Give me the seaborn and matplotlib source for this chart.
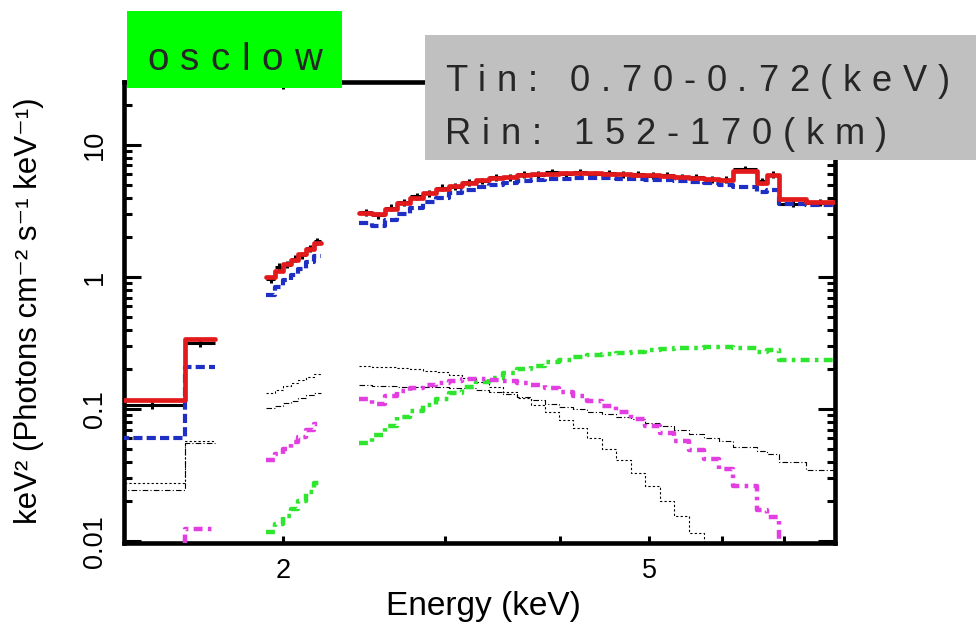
import pandas as pd
import seaborn as sns
import matplotlib.pyplot as plt
from matplotlib.patches import Rectangle
from matplotlib.ticker import FixedLocator, NullFormatter
from matplotlib.font_manager import FontProperties

W, H, DPI = 976, 629, 100

# bin edges (keV) of the three energy groups
edges_lo = [1.33, 1.566, 1.688]
edges_mid = [1.92, 1.96, 2.00, 2.04, 2.08, 2.12, 2.16, 2.20]
edges_hi = [2.42, 2.50, 2.58, 2.66, 2.75, 2.84, 2.93, 3.03, 3.13, 3.24, 3.35,
            3.47, 3.59, 3.72, 3.85, 3.99, 4.13, 4.28, 4.44, 4.60, 4.77, 4.95,
            5.13, 5.32, 5.52, 5.73, 5.95, 6.16, 6.54, 6.71, 6.92, 7.40, 7.94]

# one value per bin: 2 (lo) + 7 (mid) + 32 (hi)
data_flux = [0.107, 0.316,
             0.96, 1.2, 1.24, 1.38, 1.47, 1.66, 1.86,
             3.1, 2.95, 3.35, 3.7, 4.1, 4.3, 4.75, 4.85, 5.25, 5.35, 5.7, 5.7,
             6.0, 5.95, 6.2, 6.05, 6.25, 6.05, 6.15, 6.0, 6.05, 5.85, 5.9, 5.7,
             5.72, 5.5, 5.45, 6.6, 5.3, 5.95, 3.6, 3.65]
data_err_frac = 0.06

model_total = [0.117, 0.339,
               1.0, 1.12, 1.25, 1.35, 1.5, 1.62, 1.82,
               3.05, 3.0, 3.3, 3.65, 4.0, 4.35, 4.65, 4.9, 5.15, 5.4, 5.6, 5.75,
               5.9, 6.0, 6.08, 6.12, 6.15, 6.12, 6.08, 6.03, 5.98, 5.9, 5.83,
               5.75, 5.65, 5.55, 5.4, 6.4, 5.15, 5.95, 3.9, 3.7]

model_disk = [0.060, 0.208,
              0.73, 0.84, 0.95, 1.04, 1.15, 1.3, 1.44,
              2.57, 2.45, 2.7, 3.0, 3.35, 3.7, 4.0, 4.3, 4.55, 4.8, 5.0, 5.15,
              5.3, 5.4, 5.5, 5.55, 5.6, 5.6, 5.58, 5.55, 5.5, 5.45, 5.4, 5.32,
              5.25, 5.15, 5.0, 4.85, 4.4, 4.55, 3.6, 3.5]

comp_green = [0.001, 0.003,
              0.0117, 0.0135, 0.0155, 0.0175, 0.02, 0.0235, 0.0275,
              0.055, 0.064, 0.075, 0.087, 0.097, 0.108, 0.119, 0.132, 0.146,
              0.16, 0.173, 0.187, 0.2, 0.213, 0.226, 0.237, 0.248, 0.258,
              0.263, 0.268, 0.273, 0.279, 0.284, 0.29, 0.292, 0.294, 0.296,
              0.29, 0.27, 0.28, 0.235, 0.235]

comp_magenta = [0.004, 0.0123,
                0.041, 0.046, 0.05, 0.056, 0.062, 0.069, 0.077,
                0.12, 0.11, 0.125, 0.137, 0.145, 0.152, 0.158, 0.163, 0.168,
                0.169, 0.167, 0.163, 0.158, 0.152, 0.145, 0.136, 0.126, 0.116,
                0.105, 0.095, 0.084, 0.075, 0.066, 0.057, 0.049, 0.042, 0.035,
                0.026, 0.0172, 0.0153, 0.006, 0.004]

comp_thin_a = [0.0275, 0.057,
               0.132, 0.14, 0.15, 0.158, 0.166, 0.175, 0.184,
               0.212, 0.21, 0.208, 0.205, 0.2, 0.195, 0.19, 0.182, 0.172, 0.16,
               0.148, 0.136, 0.122, 0.108, 0.095, 0.083, 0.072, 0.061, 0.05,
               0.041, 0.033, 0.026, 0.02, 0.0155, 0.0115, 0.0085, 0.006, 0.004,
               0.003, 0.0025, 0.0018, 0.0012]

comp_thin_b = [0.0243, 0.055,
               0.102, 0.106, 0.111, 0.116, 0.121, 0.127, 0.132,
               0.152, 0.151, 0.15, 0.148, 0.147, 0.146, 0.146, 0.145, 0.145,
               0.14, 0.135, 0.13, 0.124, 0.117, 0.11, 0.104, 0.1, 0.096, 0.092,
               0.088, 0.084, 0.079, 0.074, 0.069, 0.065, 0.061, 0.057, 0.052,
               0.048, 0.046, 0.04, 0.0345]

y_ticks = [0.01, 0.1, 1, 10]
y_ticklabels = ['0.01', '0.1', '1', '10']
x_ticks = [2, 5]
x_ticklabels = ['2', '5']
x_minor = [3, 4, 6, 7]

title_text = 'osclow'
fit_lines = ['Tin: 0.70-0.72(keV)', 'Rin: 152-170(km)']


def split_bins(values):
    out = []
    start = 0
    for edges in (edges_lo, edges_mid, edges_hi):
        n = len(edges) - 1
        out.append((edges, values[start:start + n]))
        start += n
    return out


def steps_frame(values):
    rows = []
    for seg, (edges, vals) in enumerate(split_bins(values)):
        ys = list(vals) + [vals[-1]]
        for e, y in zip(edges, ys):
            rows.append({'energy': e, 'flux': y, 'segment': seg})
    return pd.DataFrame(rows)


def tracked_text(fig, x_px, y_px, s, size, tracking):
    # letter-spaced text, one glyph at a time (pixel coords from top-left)
    renderer = fig.canvas.get_renderer()
    prop = FontProperties(family='Liberation Sans', size=size)
    base = renderer.get_text_width_height_descent('HH', prop, ismath=False)[0]
    x = x_px
    for ch in s:
        if ch != ' ':
            fig.text(x / W, 1 - y_px / H, ch, fontproperties=prop,
                     ha='left', va='baseline', zorder=6)
        w = renderer.get_text_width_height_descent('H' + ch + 'H', prop,
                                                   ismath=False)[0]
        x += (w - base) + tracking


sns.set_theme(style='ticks')
plt.rcParams['font.family'] = ['Liberation Sans', 'DejaVu Sans']

fig = plt.figure(figsize=(W / DPI, H / DPI), dpi=DPI)
fig.patch.set_facecolor('white')
ax = fig.add_axes([124 / W, (H - 543) / H, (835 - 124) / W, (543 - 82) / H])
ax.set_facecolor('white')
ax.set_xscale('log')
ax.set_yscale('log')

# data crosses
for edges, vals in split_bins(data_flux):
    lo = pd.Series(edges[:-1])
    hi = pd.Series(edges[1:])
    cen = (lo * hi) ** 0.5
    vals = pd.Series(vals)
    ax.errorbar(cen, vals, xerr=[cen - lo, hi - cen], yerr=vals * data_err_frac,
                fmt='none', ecolor='black', elinewidth=2.2, capsize=0, zorder=2)

components = [
    (comp_thin_a, 'black', (0, (2, 2)), 0.8, 2.5),
    (comp_thin_b, 'black', (0, (5, 2, 1, 2)), 0.8, 2.5),
    (comp_green, '#2ee62e', (0, (2.0, 1.2, 0.8, 1.2)), 3.2, 3),
    (comp_magenta, '#e23ee2', (0, (2.0, 1.2, 0.8, 1.2)), 3.2, 3),
    (model_disk, '#1f2fc4', (0, (2.2, 1.0)), 3.0, 3),
    (model_total, '#e31a1c', '-', 3.4, 4),
]
for values, color, ls, lw, z in components:
    sns.lineplot(data=steps_frame(values), x='energy', y='flux',
                 units='segment', estimator=None, sort=False,
                 drawstyle='steps-post', color=color, linestyle=ls,
                 linewidth=lw, zorder=z, legend=False, ax=ax)

ax.set_xlim(1.345, 7.95)
ax.set_ylim(0.0097, 30)

ax.set_yticks(y_ticks, labels=y_ticklabels, rotation=90, va='center')
ax.yaxis.set_minor_locator(FixedLocator(
    [m * 10.0 ** k for k in range(-2, 2) for m in range(2, 10)]))
ax.yaxis.set_minor_formatter(NullFormatter())
ax.set_xticks(x_ticks, labels=x_ticklabels)
ax.xaxis.set_minor_locator(FixedLocator(x_minor))
ax.xaxis.set_minor_formatter(NullFormatter())

ax.tick_params(axis='both', which='both', direction='in', top=True,
               right=True, width=2.2, color='black', labelsize=19.5,
               labelcolor='black')
ax.tick_params(axis='y', which='major', length=12, pad=11.5)
ax.tick_params(axis='y', which='minor', length=6)
ax.tick_params(axis='x', which='both', length=5, pad=10.5)
for sp in ax.spines.values():
    sp.set_visible(True)
    sp.set_linewidth(3.3)
    sp.set_color('black')

ax.set_xlabel('Energy (keV)', fontsize=24, color='black')
ax.xaxis.set_label_coords(0.505, -0.104)
ax.set_ylabel('keV² (Photons cm⁻² s⁻¹ keV⁻¹)', fontsize=22.5, color='black')
ax.yaxis.set_label_coords(-0.1125, 0.504)

# label boxes above the frame
fig.add_artist(Rectangle((127 / W, 1 - 88 / H), 215 / W, 77 / H,
                         transform=fig.transFigure, facecolor='#00ff00',
                         edgecolor='none', zorder=5))
fig.add_artist(Rectangle((425 / W, 1 - 160 / H), (W - 425) / W, 125 / H,
                         transform=fig.transFigure, facecolor='#c0c0c0',
                         edgecolor='none', zorder=5))
tracked_text(fig, 147, 70, title_text, 27.7, 11.5)
tracked_text(fig, 445, 91, fit_lines[0], 26.1, 10.8)
tracked_text(fig, 445, 144, fit_lines[1], 26.1, 10.8)

fig.savefig('out.png', dpi=DPI)
